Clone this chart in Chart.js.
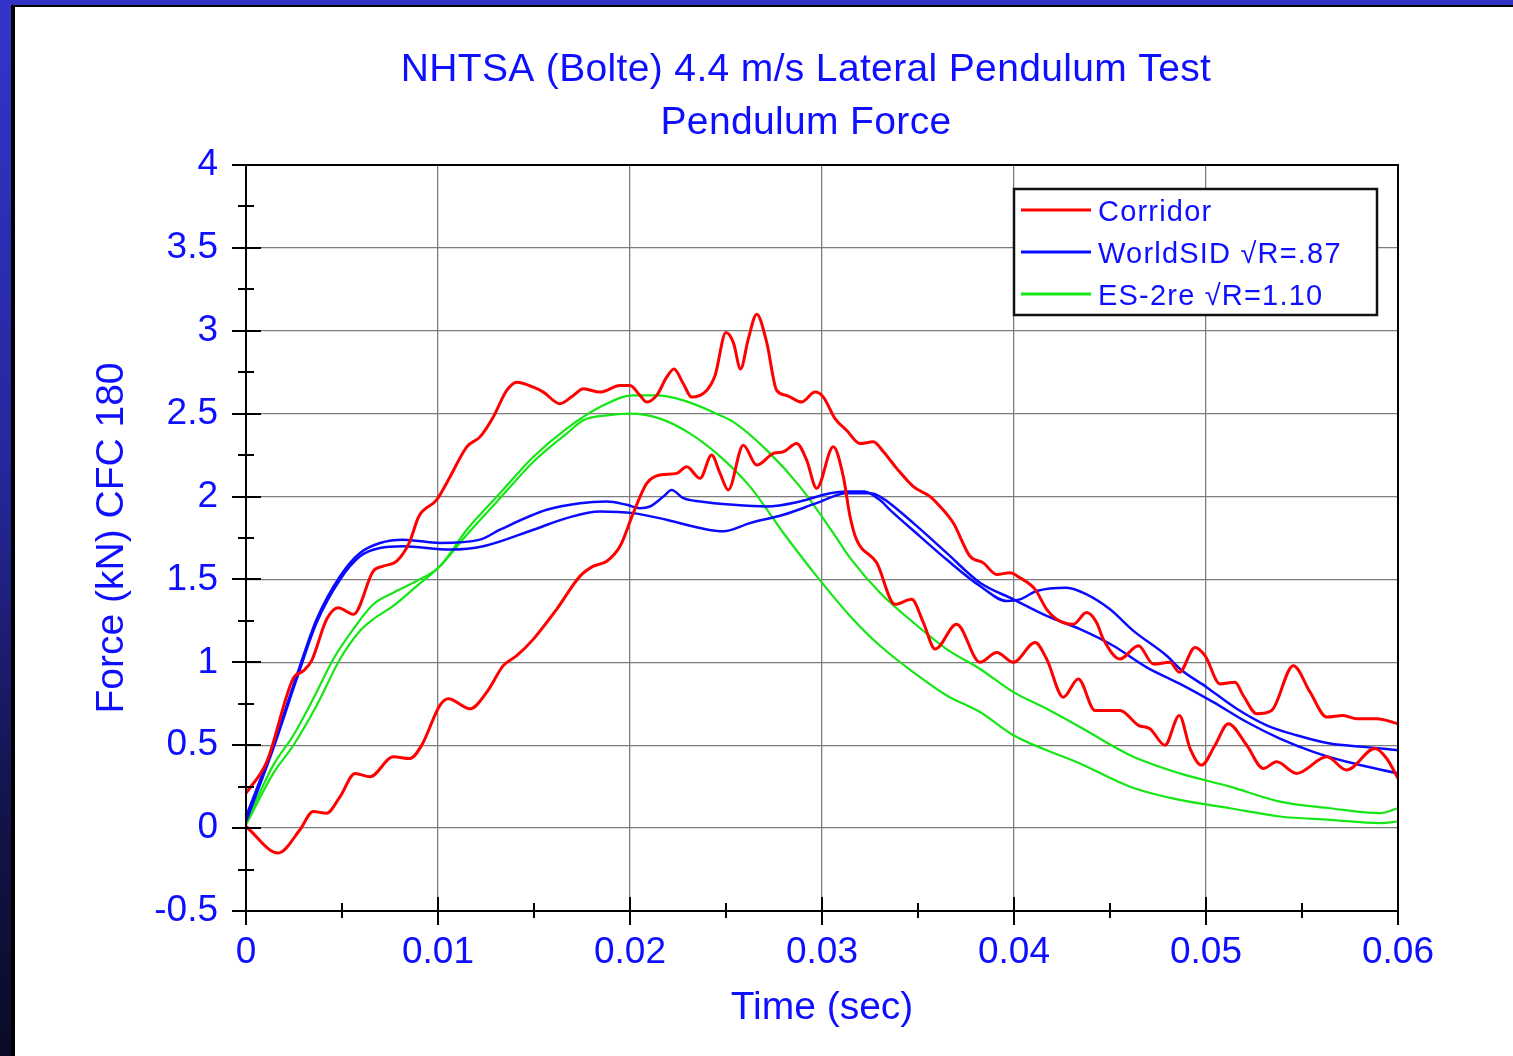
<!DOCTYPE html>
<html>
<head>
<meta charset="utf-8">
<title>Pendulum Force</title>
<script src="https://cdn.jsdelivr.net/npm/chart.js@4.4.1/dist/chart.umd.min.js"></script>
<style>
  html, body { margin: 0; padding: 0; overflow: hidden; background: #fff; }
  #page { position: relative; width: 1513px; height: 1056px; background: #fff; }
  .edge-top { position: absolute; left: 0; top: 0; width: 1513px; height: 5px; background: #3131c4; }
  .edge-top-line { position: absolute; left: 11px; top: 5px; width: 1502px; height: 2px; background: #000; }
  .edge-left { position: absolute; left: 0; top: 0; width: 11px; height: 1056px;
    background: linear-gradient(to bottom, #3434cc 0%, #26269a 45%, #14144e 75%, #0a0a26 100%); }
  .edge-left-line { position: absolute; left: 11px; top: 5px; width: 4px; height: 1051px; background: #000; }
  #wrap { position: absolute; left: 0; top: 0; width: 1513px; height: 1056px; }
</style>
</head>
<body>
<div id="page">
  <div class="edge-top"></div>
  <div class="edge-left"></div>
  <div class="edge-top-line"></div>
  <div class="edge-left-line"></div>
  <div id="wrap"><canvas id="chart"></canvas></div>
</div>
<script>
// time in seconds, force in kN
const corridorHiT = [0, 0.00108, 0.00245, 0.0030, 0.00342, 0.0042, 0.0048, 0.0056, 0.00663, 0.00715, 0.00785, 0.0085, 0.0090, 0.00993, 0.01063, 0.0115, 0.01219, 0.01288, 0.01358, 0.0141, 0.01497, 0.01549, 0.01635, 0.01705, 0.01757, 0.01844, 0.01948, 0.0200, 0.02052, 0.02087, 0.02139, 0.02191, 0.02229, 0.02278, 0.02321, 0.02399, 0.02443, 0.0250, 0.02538, 0.02576, 0.02616, 0.0266, 0.02712, 0.02764, 0.02816, 0.02894, 0.02964, 0.03007, 0.03068, 0.03128, 0.03198, 0.03267, 0.0332, 0.03389, 0.03476, 0.03563, 0.03615, 0.03684, 0.03771, 0.0384, 0.0391, 0.03979, 0.04031, 0.0411, 0.0417, 0.04222, 0.04309, 0.04378, 0.0443, 0.04465, 0.04552, 0.04648, 0.04726, 0.04813, 0.04861, 0.04943, 0.04995, 0.05073, 0.05151, 0.05194, 0.05264, 0.05342, 0.05455, 0.05542, 0.05629, 0.05715, 0.05785, 0.05889, 0.06];
const corridorHiF = [0.21, 0.40, 0.90, 0.95, 1.01, 1.26, 1.33, 1.29, 1.55, 1.58, 1.61, 1.72, 1.88, 1.98, 2.12, 2.30, 2.36, 2.48, 2.64, 2.69, 2.66, 2.63, 2.56, 2.61, 2.65, 2.63, 2.67, 2.67, 2.61, 2.57, 2.61, 2.72, 2.77, 2.68, 2.60, 2.64, 2.73, 2.99, 2.93, 2.77, 2.95, 3.10, 2.93, 2.64, 2.61, 2.57, 2.63, 2.60, 2.47, 2.40, 2.32, 2.33, 2.27, 2.17, 2.06, 2.00, 1.94, 1.84, 1.64, 1.60, 1.53, 1.54, 1.51, 1.44, 1.32, 1.26, 1.23, 1.30, 1.24, 1.14, 1.02, 1.10, 0.99, 1.00, 0.94, 1.09, 1.04, 0.87, 0.88, 0.80, 0.69, 0.71, 0.98, 0.82, 0.67, 0.68, 0.66, 0.66, 0.63];

const corridorLoT = [0, 0.00168, 0.00281, 0.0035, 0.0042, 0.0049, 0.00568, 0.00646, 0.00767, 0.00854, 0.00915, 0.0101, 0.01054, 0.01167, 0.01254, 0.0134, 0.0141, 0.01497, 0.01618, 0.0174, 0.01809, 0.01879, 0.01948, 0.02017, 0.02087, 0.02156, 0.02243, 0.02295, 0.02365, 0.02425, 0.02469, 0.02512, 0.0259, 0.0266, 0.02747, 0.02799, 0.02868, 0.0292, 0.02972, 0.03059, 0.03111, 0.03146, 0.0318, 0.03285, 0.0338, 0.03467, 0.03528, 0.03589, 0.03701, 0.03823, 0.0391, 0.03997, 0.0411, 0.0417, 0.04257, 0.04335, 0.04422, 0.04552, 0.04648, 0.04708, 0.04786, 0.04861, 0.04917, 0.04977, 0.05047, 0.05116, 0.05212, 0.05299, 0.05368, 0.05472, 0.05629, 0.05733, 0.0588, 0.05941, 0.06];
const corridorLoF = [0.01, -0.15, -0.01, 0.10, 0.09, 0.19, 0.33, 0.31, 0.43, 0.42, 0.50, 0.74, 0.78, 0.72, 0.82, 0.98, 1.04, 1.14, 1.32, 1.52, 1.58, 1.61, 1.70, 1.90, 2.08, 2.13, 2.14, 2.18, 2.11, 2.25, 2.14, 2.04, 2.31, 2.19, 2.26, 2.27, 2.32, 2.22, 2.05, 2.30, 2.12, 1.88, 1.74, 1.60, 1.35, 1.38, 1.24, 1.08, 1.23, 1.00, 1.06, 1.00, 1.12, 1.02, 0.79, 0.90, 0.71, 0.71, 0.62, 0.60, 0.50, 0.68, 0.48, 0.38, 0.50, 0.63, 0.50, 0.36, 0.40, 0.33, 0.43, 0.35, 0.48, 0.42, 0.30];

const worldsidAT = [0, 0.00142, 0.00264, 0.00368, 0.0049, 0.00594, 0.00698, 0.00819, 0.0101, 0.01219, 0.01323, 0.01566, 0.0174, 0.01879, 0.01983, 0.02052, 0.02104, 0.02174, 0.02217, 0.02278, 0.02365, 0.02538, 0.02712, 0.02885, 0.03042, 0.0313, 0.0322, 0.0330, 0.03354, 0.0351, 0.03649, 0.03823, 0.03962, 0.04031, 0.04118, 0.04274, 0.04378, 0.045, 0.04622, 0.04795, 0.04865, 0.05003, 0.0516, 0.05316, 0.05472, 0.05646, 0.05819, 0.06];
const worldsidAF = [0.07, 0.50, 0.92, 1.26, 1.52, 1.66, 1.72, 1.74, 1.72, 1.74, 1.80, 1.92, 1.96, 1.97, 1.95, 1.93, 1.94, 2.00, 2.04, 1.99, 1.97, 1.95, 1.94, 1.97, 2.02, 2.03, 2.03, 1.98, 1.92, 1.76, 1.62, 1.46, 1.37, 1.38, 1.43, 1.45, 1.41, 1.32, 1.19, 1.04, 0.96, 0.85, 0.72, 0.62, 0.56, 0.51, 0.49, 0.47];

const worldsidBT = [0, 0.00142, 0.00264, 0.00368, 0.0049, 0.00594, 0.00698, 0.00819, 0.01063, 0.01236, 0.01497, 0.0167, 0.01844, 0.02017, 0.0219, 0.02365, 0.02486, 0.02625, 0.02799, 0.02972, 0.03128, 0.0325, 0.03302, 0.03476, 0.03649, 0.03823, 0.03997, 0.0417, 0.04344, 0.04517, 0.04691, 0.04865, 0.05038, 0.05212, 0.05385, 0.05559, 0.05733, 0.06];
const worldsidBF = [0.04, 0.48, 0.90, 1.24, 1.50, 1.64, 1.69, 1.70, 1.68, 1.70, 1.80, 1.87, 1.91, 1.90, 1.86, 1.81, 1.79, 1.84, 1.89, 1.96, 2.02, 2.02, 2.00, 1.84, 1.66, 1.48, 1.38, 1.28, 1.20, 1.10, 0.97, 0.87, 0.76, 0.64, 0.54, 0.46, 0.40, 0.33];

const es2reAT = [0, 0.00142, 0.00247, 0.0035, 0.00455, 0.00559, 0.00663, 0.00767, 0.00871, 0.0101, 0.0115, 0.01323, 0.01497, 0.0167, 0.01844, 0.02017, 0.0214, 0.02278, 0.02451, 0.02538, 0.02712, 0.02885, 0.03059, 0.03146, 0.03302, 0.03476, 0.03649, 0.03823, 0.03997, 0.0417, 0.04344, 0.04604, 0.04865, 0.05125, 0.05385, 0.05646, 0.05906, 0.06];
const es2reAF = [0.03, 0.38, 0.56, 0.78, 1.02, 1.20, 1.35, 1.42, 1.48, 1.58, 1.80, 2.02, 2.24, 2.41, 2.54, 2.61, 2.61, 2.58, 2.50, 2.45, 2.28, 2.06, 1.78, 1.63, 1.42, 1.24, 1.08, 0.96, 0.82, 0.72, 0.61, 0.44, 0.33, 0.25, 0.16, 0.12, 0.09, 0.12];

const es2reBT = [0, 0.00142, 0.00247, 0.00368, 0.0049, 0.00594, 0.00663, 0.00767, 0.00889, 0.0101, 0.0115, 0.01323, 0.01497, 0.0167, 0.01757, 0.01879, 0.0200, 0.02156, 0.02313, 0.02451, 0.02625, 0.02799, 0.02972, 0.03146, 0.03302, 0.03476, 0.03649, 0.03823, 0.03997, 0.04344, 0.04604, 0.04865, 0.05125, 0.05385, 0.05646, 0.05906, 0.06];
const es2reBF = [0.02, 0.33, 0.50, 0.74, 1.02, 1.19, 1.26, 1.34, 1.46, 1.58, 1.77, 1.99, 2.21, 2.38, 2.46, 2.49, 2.50, 2.47, 2.38, 2.26, 2.06, 1.78, 1.52, 1.28, 1.10, 0.94, 0.80, 0.70, 0.56, 0.39, 0.25, 0.17, 0.12, 0.07, 0.05, 0.03, 0.04];

const seriesLabels = ['Corridor', 'WorldSID \u221AR=.87', 'ES-2re \u221AR=1.10'];
const titleLines = ['NHTSA (Bolte) 4.4 m/s Lateral Pendulum Test', 'Pendulum Force'];

const FONT = '"Liberation Sans", Arial, Helvetica, sans-serif';
const TEXT_BLUE = '#0f0fff';
const RED = '#ff0000';
const BLUE = '#0a0aff';
const GREEN = '#16e616';

const toPoints = (t, f) => t.map((v, i) => ({ x: v, y: f[i] }));

const line = (label, t, f, color, width) => ({
  label,
  data: toPoints(t, f),
  borderColor: color,
  backgroundColor: color,
  borderWidth: width,
  pointRadius: 0,
  cubicInterpolationMode: 'monotone',
  fill: false,
});

// title drawn above the plot, a bit left of the plot centre like the original
const headerText = {
  id: 'headerText',
  afterDraw(chart) {
    const { ctx, chartArea } = chart;
    const cx = (chartArea.left + chartArea.right) / 2 - 16;
    ctx.save();
    ctx.font = '39px ' + FONT;
    ctx.letterSpacing = '0.35px';
    ctx.fillStyle = TEXT_BLUE;
    ctx.textAlign = 'center';
    ctx.textBaseline = 'middle';
    ctx.fillText(titleLines[0], cx, 70);
    ctx.fillText(titleLines[1], cx, 123);
    ctx.restore();
  },
};

// black frame plus major/minor tick marks crossing the axes
const frameTicks = {
  id: 'frameTicks',
  afterDatasetsDraw(chart) {
    const { ctx, chartArea: a, scales: { x, y } } = chart;
    ctx.save();
    ctx.strokeStyle = '#000';
    ctx.lineWidth = 2;
    ctx.strokeRect(a.left, a.top, a.right - a.left, a.bottom - a.top);
    ctx.beginPath();
    y.ticks.forEach((t) => {
      const py = Math.round(y.getPixelForValue(t.value));
      if (t.label !== '') {
        ctx.moveTo(a.left - 14, py);
        ctx.lineTo(a.left + 15, py);
      } else {
        ctx.moveTo(a.left - 8, py);
        ctx.lineTo(a.left + 8, py);
      }
    });
    x.ticks.forEach((t) => {
      const px = Math.round(x.getPixelForValue(t.value));
      if (t.label !== '') {
        ctx.moveTo(px, a.bottom - 14);
        ctx.lineTo(px, a.bottom + 14);
      } else {
        ctx.moveTo(px, a.bottom - 8);
        ctx.lineTo(px, a.bottom + 7);
      }
    });
    ctx.stroke();
    ctx.restore();
  },
};

// boxed legend in the upper right corner of the plot, one entry per label
const boxLegend = {
  id: 'boxLegend',
  afterDraw(chart) {
    const { ctx, chartArea: a } = chart;
    const entries = [];
    chart.data.datasets.forEach((ds) => {
      if (!entries.find((e) => e.label === ds.label)) entries.push(ds);
    });
    const left = a.right - 384;
    const top = a.top + 24;
    const w = 363;
    const h = 126;
    ctx.save();
    ctx.fillStyle = '#fff';
    ctx.fillRect(left, top, w, h);
    ctx.strokeStyle = '#111';
    ctx.lineWidth = 2.5;
    ctx.strokeRect(left, top, w, h);
    ctx.font = '29px ' + FONT;
    ctx.letterSpacing = '1.2px';
    ctx.textBaseline = 'middle';
    ctx.textAlign = 'left';
    entries.forEach((ds, i) => {
      const cy = top + 21 + i * 42;
      ctx.strokeStyle = ds.borderColor;
      ctx.lineWidth = 3;
      ctx.beginPath();
      ctx.moveTo(left + 7, cy);
      ctx.lineTo(left + 77, cy);
      ctx.stroke();
      ctx.fillStyle = TEXT_BLUE;
      ctx.fillText(ds.label, left + 84, cy + 3);
    });
    ctx.restore();
  },
};

const gridColor = (c) => (c.tick && c.tick.label !== '' ? '#7d7d7d' : 'rgba(0,0,0,0)');

new Chart(document.getElementById('chart'), {
  type: 'line',
  data: {
    datasets: [
      line(seriesLabels[0], corridorHiT, corridorHiF, RED, 3),
      line(seriesLabels[0], corridorLoT, corridorLoF, RED, 3),
      line(seriesLabels[1], worldsidAT, worldsidAF, BLUE, 2.5),
      line(seriesLabels[1], worldsidBT, worldsidBF, BLUE, 2.5),
      line(seriesLabels[2], es2reAT, es2reAF, GREEN, 2.2),
      line(seriesLabels[2], es2reBT, es2reBF, GREEN, 2.2),
    ],
  },
  options: {
    responsive: true,
    maintainAspectRatio: false,
    animation: false,
    layout: { padding: { left: 0, right: 115, top: 165, bottom: 0 } },
    plugins: {
      legend: { display: false },
      tooltip: { enabled: false },
      title: { display: false },
    },
    scales: {
      x: {
        type: 'linear',
        min: 0,
        max: 0.06,
        afterFit: (scale) => { scale.height = 145; },
        grid: { color: gridColor, lineWidth: 1.3, drawTicks: false },
        border: { color: '#000', width: 2 },
        ticks: {
          stepSize: 0.005,
          autoSkip: false,
          maxRotation: 0,
          padding: 20,
          color: TEXT_BLUE,
          font: { family: FONT, size: 37 },
          callback: (value) => {
            const ms = Math.round(value * 1000);
            if (ms % 10 !== 0) return '';
            return ms === 0 ? '0' : (ms / 1000).toFixed(2);
          },
        },
        title: {
          display: true,
          text: 'Time (sec)',
          color: TEXT_BLUE,
          font: { family: FONT, size: 39 },
          padding: { top: 0, bottom: 24 },
        },
      },
      y: {
        min: -0.5,
        max: 4,
        afterFit: (scale) => { scale.width = 246; },
        grid: { color: gridColor, lineWidth: 1.3, drawTicks: false },
        border: { color: '#000', width: 2 },
        ticks: {
          stepSize: 0.25,
          autoSkip: false,
          padding: 28,
          color: TEXT_BLUE,
          font: { family: FONT, size: 37 },
          callback: (value) => (Math.round(value * 4) % 2 === 0 ? String(Math.round(value * 2) / 2) : ''),
        },
        title: {
          display: true,
          text: 'Force (kN) CFC 180',
          color: TEXT_BLUE,
          font: { family: FONT, size: 39 },
          padding: { top: 89, bottom: 0 },
        },
      },
    },
  },
  plugins: [headerText, frameTicks, boxLegend],
});
</script>
</body>
</html>
